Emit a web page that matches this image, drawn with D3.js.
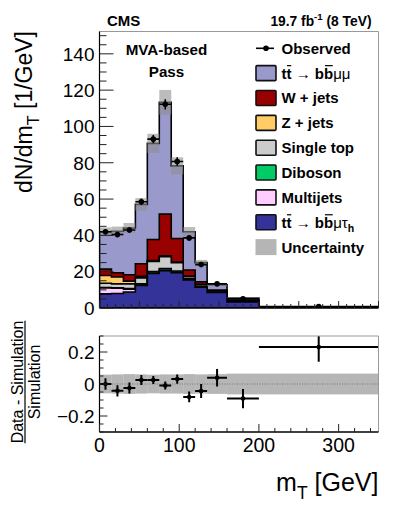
<!DOCTYPE html>
<html><head><meta charset="utf-8">
<script src="https://cdn.jsdelivr.net/npm/d3@7"></script>
<style>html,body{margin:0;padding:0;background:#fff;} svg{display:block;}</style>
</head><body>
<svg id="c" width="399" height="505"></svg>
<script>
// ---------------- data ----------------
const binEdges    = [0, 15, 30, 45, 60, 75, 90, 105, 120, 135, 160, 200, 350];
const ttMuTauH    = [7.8, 8.0, 8.8, 12.4, 19.0, 20.5, 19.5, 15.5, 11.5, 8.5, 3.4, 0.40];
const multijets   = [3.3, 2.9, 1.6, 0.3, 0.2, 0.2, 0.1, 0.1, 0.1, 0.05, 0.02, 0.01];
const diboson     = [0.2, 0.2, 0.3, 0.6, 0.9, 1.0, 0.8, 0.5, 0.3, 0.2, 0.1, 0.01];
const singleTop   = [2.3, 2.2, 2.6, 3.3, 5.5, 6.5, 4.5, 1.2, 0.9, 0.6, 0.5, 0.05];
const zJets       = [4.3, 3.8, 1.5, 0.8, 0.6, 0.5, 0.4, 0.3, 0.2, 0.1, 0.05, 0.01];
const wJets       = [3.5, 2.3, 3.5, 7.0, 11.5, 23.0, 13.0, 3.3, 1.5, 0.4, 0.2, 0.02];
const ttMuMu      = [20.6, 22.9, 25.8, 32.7, 53.0, 61.6, 40.0, 21.1, 10.5, 2.95, 1.23, 0.15];
const observed    = [42.0, 40.5, 43.0, 58.5, 93.0, 112.2, 80.7, 38.6, 23.9, 13.3, 5.0, 0.8];
const observedErr = [1.5, 1.5, 1.5, 1.8, 2.3, 2.8, 2.3, 1.4, 1.1, 0.7, 0.33, 0.06];
const uncRel      = [0.058, 0.06, 0.062, 0.06, 0.058, 0.06, 0.06, 0.062, 0.06, 0.062, 0.065, 0.065];
const yTicksTop   = [0, 20, 40, 60, 80, 100, 120, 140];
const yTicksRatio = [-0.2, 0, 0.2];
const xTicks      = [0, 100, 200, 300];

const FONT = "'Liberation Sans', Arial, Helvetica, sans-serif";
const svg = d3.select("#c").attr("font-family", FONT);

// layers bottom -> top
const layers = [
  {key: "ttMuTauH",  values: ttMuTauH,  color: "#333399"},
  {key: "multijets", values: multijets, color: "#ffccff"},
  {key: "diboson",   values: diboson,   color: "#00cc66"},
  {key: "singleTop", values: singleTop, color: "#cccccc"},
  {key: "zJets",     values: zJets,     color: "#ffcc66"},
  {key: "wJets",     values: wJets,     color: "#990000"},
  {key: "ttMuMu",    values: ttMuMu,    color: "#9999cc"}
];
const nb = binEdges.length - 1;
const rows = d3.range(nb).map(i => {
  const r = {i};
  layers.forEach(l => r[l.key] = l.values[i]);
  return r;
});
const stacked = d3.stack().keys(layers.map(l => l.key))(rows);
const total = rows.map((r, i) => stacked[stacked.length - 1][i][1]);

// ---------------- scales ----------------
const X0 = 99.5, X1 = 378.5;
const x = d3.scaleLinear().domain([0, 350]).range([X0, X1]);
const yT = d3.scaleLinear().domain([0, 152.3]).range([308, 31.5]);
const yR = d3.scaleLinear().domain([-0.3, 0.3]).range([432, 336]);

// clip paths
const defs = svg.append("defs");
defs.append("clipPath").attr("id", "clipTop").append("rect")
  .attr("x", X0).attr("y", 31.5).attr("width", X1 - X0).attr("height", 308 - 31.5);
defs.append("clipPath").attr("id", "clipRatio").append("rect")
  .attr("x", X0).attr("y", 336).attr("width", X1 - X0).attr("height", 96);

// ---------------- helpers ----------------
function rich(parent, px, py, parts, size, anchor, color) {
  const g = parent.append("g").attr("fill", color || "#000");
  let cx = 0;
  parts.forEach(p => {
    const fs = size * ((p.sub || p.sup) ? 0.7 : 1);
    const dy = p.sub ? size * 0.3 : p.sup ? -size * 0.42 : 0;
    const t = g.append("text").attr("x", cx).attr("y", dy)
      .attr("font-size", fs).attr("font-weight", p.b ? "bold" : "normal")
      .style("white-space", "pre").text(p.t);
    const w = t.node().getComputedTextLength();
    if (p.over) {
      g.append("line").attr("x1", cx + w * 0.1).attr("x2", cx + w * 0.95)
        .attr("y1", -size * 0.86).attr("y2", -size * 0.86)
        .attr("stroke", color || "#000").attr("stroke-width", size * 0.08);
    }
    cx += w + (p.gap || 0);
  });
  const sh = anchor === "end" ? -cx : anchor === "middle" ? -cx / 2 : 0;
  g.attr("transform", `translate(${px + sh},${py})`);
  return g;
}

function stepPath(vals, yScale) {
  let d = `M${x(binEdges[0])},${yScale(0)}`;
  for (let i = 0; i < nb; i++) {
    d += `L${x(binEdges[i])},${yScale(vals[i])}L${x(binEdges[i + 1])},${yScale(vals[i])}`;
  }
  d += `L${x(binEdges[nb])},${yScale(0)}Z`;
  return d;
}

// ---------------- top panel ----------------
const topG = svg.append("g");
const topPlot = topG.append("g").attr("clip-path", "url(#clipTop)");
for (let li = stacked.length - 1; li >= 0; li--) {
  const cum = stacked[li].map(d => d[1]);
  topPlot.append("path").attr("d", stepPath(cum, yT))
    .attr("fill", layers[li].color).attr("stroke", "#000")
    .attr("stroke-width", 1.6).attr("stroke-linejoin", "miter");
}
topPlot.selectAll("rect.unc").data(d3.range(nb)).join("rect")
  .attr("x", i => x(binEdges[i])).attr("width", i => x(binEdges[i + 1]) - x(binEdges[i]))
  .attr("y", i => yT(total[i] * (1 + uncRel[i])))
  .attr("height", i => yT(total[i] * (1 - uncRel[i])) - yT(total[i] * (1 + uncRel[i])))
  .attr("fill", "#8f8f8f").attr("fill-opacity", 0.6);

const dp = topPlot.append("g").attr("stroke", "#000").attr("stroke-width", 1.6);
d3.range(nb).forEach(i => {
  const cxv = x((binEdges[i] + binEdges[i + 1]) / 2);
  dp.append("line").attr("x1", x(binEdges[i])).attr("x2", x(binEdges[i + 1]))
    .attr("y1", yT(observed[i])).attr("y2", yT(observed[i]));
  dp.append("line").attr("x1", cxv).attr("x2", cxv)
    .attr("y1", yT(observed[i] - observedErr[i])).attr("y2", yT(observed[i] + observedErr[i]));
  dp.append("circle").attr("cx", cxv).attr("cy", yT(observed[i])).attr("r", 2.8)
    .attr("fill", "#000").attr("stroke", "none");
});

topG.append("line").attr("x1", X0).attr("x2", X1).attr("y1", 31.5).attr("y2", 31.5).attr("stroke", "#999").attr("stroke-width", 1);
topG.append("line").attr("x1", X1).attr("x2", X1).attr("y1", 31.5).attr("y2", 308).attr("stroke", "#999").attr("stroke-width", 1);
topG.append("line").attr("x1", X0).attr("x2", X0).attr("y1", 31.5).attr("y2", 308).attr("stroke", "#000").attr("stroke-width", 1.2);
topG.append("line").attr("x1", X0).attr("x2", X1).attr("y1", 308).attr("y2", 308).attr("stroke", "#000").attr("stroke-width", 1.4);
d3.range(0, 152, 5).forEach(v => {
  const major = v % 20 === 0;
  topG.append("line").attr("x1", X0).attr("x2", X0 + (major ? 14 : 7))
    .attr("y1", yT(v)).attr("y2", yT(v)).attr("stroke", "#222").attr("stroke-width", 1);
});
yTicksTop.forEach(v => {
  topG.append("text").attr("x", 94.5).attr("y", yT(v) + 6.8).attr("text-anchor", "end")
    .attr("font-size", 19).text(v);
});
d3.range(0, 351, 10).forEach(v => {
  const major = v % 50 === 0;
  topG.append("line").attr("x1", x(v)).attr("x2", x(v)).attr("y1", 308).attr("y2", 308 - (major ? 7 : 4))
    .attr("stroke", "#222").attr("stroke-width", 1);
});

svg.append("text").attr("x", 107).attr("y", 25.5).attr("font-size", 15).attr("font-weight", "bold").text("CMS");
rich(svg, 371.5, 25.5, [{t: "19.7 fb", b: 1}, {t: "-1", b: 1, sup: 1}, {t: " (8 TeV)", b: 1}], 13.8, "end");
svg.append("text").attr("x", 166.5).attr("y", 55).attr("font-size", 15.2).attr("font-weight", "bold").attr("text-anchor", "middle").text("MVA-based");
svg.append("text").attr("x", 166.5).attr("y", 76.5).attr("font-size", 15.2).attr("font-weight", "bold").attr("text-anchor", "middle").text("Pass");

const legendItems = [
  {type: "obs", parts: [{t: "Observed", b: 1}]},
  {type: "box", color: "#9999cc", parts: [{t: "t", b: 1}, {t: "t", b: 1, over: 1}, {t: " \u2192 "}, {t: "b", b: 1}, {t: "b", b: 1, over: 1}, {t: "\u03bc\u03bc"}]},
  {type: "box", color: "#990000", parts: [{t: "W + jets", b: 1}]},
  {type: "box", color: "#ffcc66", parts: [{t: "Z + jets", b: 1}]},
  {type: "box", color: "#cccccc", parts: [{t: "Single top", b: 1}]},
  {type: "box", color: "#00cc66", parts: [{t: "Diboson", b: 1}]},
  {type: "box", color: "#ffccff", parts: [{t: "Multijets", b: 1}]},
  {type: "box", color: "#333399", parts: [{t: "t", b: 1}, {t: "t", b: 1, over: 1}, {t: " \u2192 "}, {t: "b", b: 1}, {t: "b", b: 1, over: 1}, {t: "\u03bc\u03c4"}, {t: "h", b: 1, sub: 1}]},
  {type: "unc", color: "#b5b5b5", parts: [{t: "Uncertainty", b: 1}]}
];
legendItems.forEach((it, k) => {
  const cy = 48.3 + k * 24.85;
  if (it.type === "obs") {
    svg.append("line").attr("x1", 256).attr("x2", 274).attr("y1", cy).attr("y2", cy).attr("stroke", "#000").attr("stroke-width", 1.6);
    svg.append("circle").attr("cx", 266).attr("cy", cy).attr("r", 2.8).attr("fill", "#000");
  } else if (it.type === "box") {
    svg.append("rect").attr("x", 256).attr("y", cy - 7.5).attr("width", 20).attr("height", 15)
      .attr("fill", it.color).attr("stroke", "#111").attr("stroke-width", 1.6).attr("rx", 1);
  } else {
    svg.append("rect").attr("x", 255.5).attr("y", cy - 8).attr("width", 21).attr("height", 16).attr("fill", it.color);
  }
  rich(svg, 281.5, cy + 5.4, it.parts, 15, "start");
});

const yt = svg.append("g").attr("transform", "translate(32,112) rotate(-90)");
rich(yt, 0, 0, [{t: "dN/dm"}, {t: "T", sub: 1}, {t: " [1/GeV]"}], 23, "middle");

// ---------------- ratio panel ----------------
const rp = svg.append("g");
const rPlot = rp.append("g").attr("clip-path", "url(#clipRatio)");
const ratio = d3.range(nb).map(i => observed[i] / total[i] - 1);
const ratioErr = d3.range(nb).map(i => observedErr[i] / total[i]);
rPlot.selectAll("rect.unc").data(d3.range(nb)).join("rect")
  .attr("x", i => x(binEdges[i])).attr("width", i => x(binEdges[i + 1]) - x(binEdges[i]))
  .attr("y", i => yR(uncRel[i])).attr("height", i => yR(-uncRel[i]) - yR(uncRel[i]))
  .attr("fill", "#8f8f8f").attr("fill-opacity", 0.65);
rPlot.append("line").attr("x1", X0).attr("x2", X1).attr("y1", yR(0)).attr("y2", yR(0))
  .attr("stroke", "#666").attr("stroke-width", 0.8).attr("stroke-dasharray", "1,1.5");
const rpp = rPlot.append("g").attr("stroke", "#000").attr("stroke-width", 2);
d3.range(nb).forEach(i => {
  const cxv = x((binEdges[i] + binEdges[i + 1]) / 2);
  rpp.append("line").attr("x1", x(binEdges[i])).attr("x2", x(binEdges[i + 1]))
    .attr("y1", yR(ratio[i])).attr("y2", yR(ratio[i]));
  rpp.append("line").attr("x1", cxv).attr("x2", cxv)
    .attr("y1", yR(ratio[i] - ratioErr[i])).attr("y2", yR(ratio[i] + ratioErr[i]));
  rpp.append("circle").attr("cx", cxv).attr("cy", yR(ratio[i])).attr("r", 2.3).attr("fill", "#000").attr("stroke", "none");
});
rp.append("line").attr("x1", X0).attr("x2", X1).attr("y1", 336).attr("y2", 336).attr("stroke", "#999").attr("stroke-width", 1);
rp.append("line").attr("x1", X1).attr("x2", X1).attr("y1", 336).attr("y2", 432).attr("stroke", "#999").attr("stroke-width", 1);
rp.append("line").attr("x1", X0).attr("x2", X0).attr("y1", 336).attr("y2", 432).attr("stroke", "#000").attr("stroke-width", 1.2);
rp.append("line").attr("x1", X0).attr("x2", X1).attr("y1", 432).attr("y2", 432).attr("stroke", "#000").attr("stroke-width", 1.4);
d3.range(-0.3, 0.3001, 0.05).forEach(v => {
  const vv = Math.round(v * 100) / 100;
  const major = Math.abs(Math.round(vv * 100) % 20) === 0;
  rp.append("line").attr("x1", X0).attr("x2", X0 + (major ? 8 : 4))
    .attr("y1", yR(vv)).attr("y2", yR(vv)).attr("stroke", "#222").attr("stroke-width", 1);
});
yTicksRatio.forEach(v => {
  rp.append("text").attr("x", 94.5).attr("y", yR(v) + 6.8).attr("text-anchor", "end")
    .attr("font-size", 19).text(v === 0 ? "0" : (v < 0 ? "\u2212" : "") + Math.abs(v));
});
d3.range(0, 351, 20).forEach(v => {
  const major = v % 100 === 0;
  rp.append("line").attr("x1", x(v)).attr("x2", x(v)).attr("y1", 432).attr("y2", 432 - (major ? 8 : 4))
    .attr("stroke", "#222").attr("stroke-width", 1);
});
xTicks.forEach(v => {
  rp.append("text").attr("x", x(v)).attr("y", 452).attr("text-anchor", "middle").attr("font-size", 19.5).text(v);
});
const ry = svg.append("g").attr("transform", "translate(23,382) rotate(-90)");
const rt1 = ry.append("text").attr("x", 0).attr("y", 0).attr("text-anchor", "middle").attr("font-size", 16).text("Data - Simulation");
const rw = rt1.node().getComputedTextLength();
ry.append("line").attr("x1", -rw / 2).attr("x2", rw / 2).attr("y1", 2).attr("y2", 2).attr("stroke", "#000").attr("stroke-width", 1.2);
ry.append("text").attr("x", 0).attr("y", 16.5).attr("text-anchor", "middle").attr("font-size", 16).text("Simulation");

rich(svg, 378.5, 491, [{t: "m"}, {t: "T", sub: 1}, {t: " [GeV]"}], 25, "end");
</script>
</body></html>
